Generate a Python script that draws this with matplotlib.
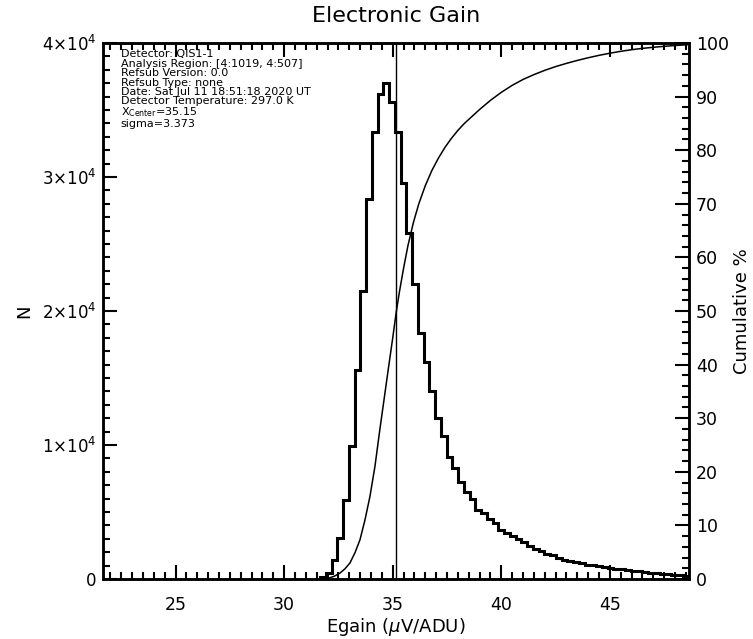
import numpy as np
import matplotlib.pyplot as plt
from matplotlib.ticker import MultipleLocator, FuncFormatter

# gain histogram (counts per bin), bins start at bin_lo with width bin_width
bin_lo = 31.65
bin_width = 0.265
counts = [170, 470, 1420, 3030, 5900, 9950, 15600, 21500, 28340, 33380,
          36200, 36990, 35620, 33380, 29530, 25850, 21990, 18380, 16220, 14000,
          11990, 10670, 9130, 8260, 7260, 6520, 5950, 5150, 4900, 4500,
          4160, 3660, 3450, 3200, 2990, 2750, 2450, 2250, 2080, 1900,
          1760, 1580, 1440, 1330, 1250, 1160, 1080, 1010, 940, 880,
          820, 770, 710, 660, 610, 560, 520, 480, 440, 400,
          360, 320, 280, 240]

# cumulative distribution of the pixel gains (percent)
cum_gain = [31.74, 32.0, 32.3, 32.57, 32.8, 33.03, 33.26, 33.49, 33.72, 33.95,
            34.18, 34.41, 34.6, 34.8, 35.0, 35.15, 35.3, 35.5, 35.7, 35.95,
            36.2, 36.5, 36.8, 37.1, 37.4, 37.7, 38.0, 38.3, 38.65, 39.0,
            39.5, 40.0, 40.5, 41.0, 41.5, 42.0, 42.5, 43.0, 43.5, 44.0,
            44.5, 45.0, 45.5, 46.0, 46.5, 47.0, 47.5, 48.0, 48.64]
cum_pct = [0.0, 0.1, 0.5, 1.1, 1.9, 3.0, 4.9, 7.3, 11.0, 15.4,
           21.0, 28.0, 33.5, 39.3, 45.0, 49.5, 53.4, 58.0, 62.2, 66.5,
           70.0, 73.4, 76.2, 78.5, 80.5, 82.2, 83.7, 85.0, 86.3, 87.6,
           89.3, 90.8, 92.1, 93.2, 94.1, 94.9, 95.6, 96.2, 96.75, 97.25,
           97.7, 98.1, 98.45, 98.75, 99.0, 99.2, 99.38, 99.53, 99.7]

x_center = 35.15
sigma = 3.373

info = ["Detector: QIS1-1",
        "Analysis Region: [4:1019, 4:507]",
        "Refsub Version: 0.0",
        "Refsub Type: none",
        "Date: Sat Jul 11 18:51:18 2020 UT",
        "Detector Temperature: 297.0 K",
        r"X$_{\mathrm{Center}}$=%.2f" % x_center,
        "sigma=%.3f" % sigma]

counts = np.array(counts, dtype=float)
edges = bin_lo + bin_width * np.arange(len(counts) + 1)

fig = plt.figure(figsize=(7.53, 6.39), dpi=100)
ax = fig.add_axes([0.1368, 0.0939, 0.7782, 0.8388])

ax.stairs(counts, edges, color="k", lw=2.2)
ax.axvline(x_center, color="k", lw=1)

ax.set_xlim(x_center - 4 * sigma, x_center + 4 * sigma)
ax.set_ylim(0, 4e4)
ax.xaxis.set_major_locator(MultipleLocator(5))
ax.xaxis.set_minor_locator(MultipleLocator(0.5))
ax.yaxis.set_major_locator(MultipleLocator(1e4))
ax.yaxis.set_minor_locator(MultipleLocator(1e3))


def sci_fmt(v, pos):
    if v == 0:
        return "0"
    return r"%d$\times$10$^{4}$" % round(v / 1e4)


ax.yaxis.set_major_formatter(FuncFormatter(sci_fmt))
ax.tick_params(axis="x", which="both", direction="in", top=True, labelsize=12.5, pad=12)
ax.tick_params(axis="y", which="both", direction="in", right=False, labelsize=12, pad=5)
ax.tick_params(which="major", length=10, width=1.5)
ax.tick_params(which="minor", length=5, width=1.5)
ax.set_xlabel(r"Egain ($\mu$V/ADU)", fontsize=13, labelpad=2)
ax.set_ylabel("N", fontsize=13, labelpad=6)
ax.set_title("Electronic Gain", fontsize=16, pad=15)

ax.text(0.03, 0.988, "\n".join(info), transform=ax.transAxes, va="top",
        ha="left", fontsize=8, linespacing=0.92)

# cumulative percentage on the right axis
ax2 = ax.twinx()
ax2.plot(cum_gain, cum_pct, color="k", lw=1.1)
ax2.set_ylim(0, 100)
ax2.yaxis.set_major_locator(MultipleLocator(10))
ax2.yaxis.set_minor_locator(MultipleLocator(2))
ax2.tick_params(axis="y", which="both", direction="in", labelsize=12.5, pad=5)
ax2.tick_params(which="major", length=10, width=1.5)
ax2.tick_params(which="minor", length=5, width=1.5)
ax2.set_ylabel("Cumulative %", fontsize=13, labelpad=3)

for a in (ax, ax2):
    for s in a.spines.values():
        s.set_linewidth(1.8)

fig.savefig("out.png", dpi=100)
